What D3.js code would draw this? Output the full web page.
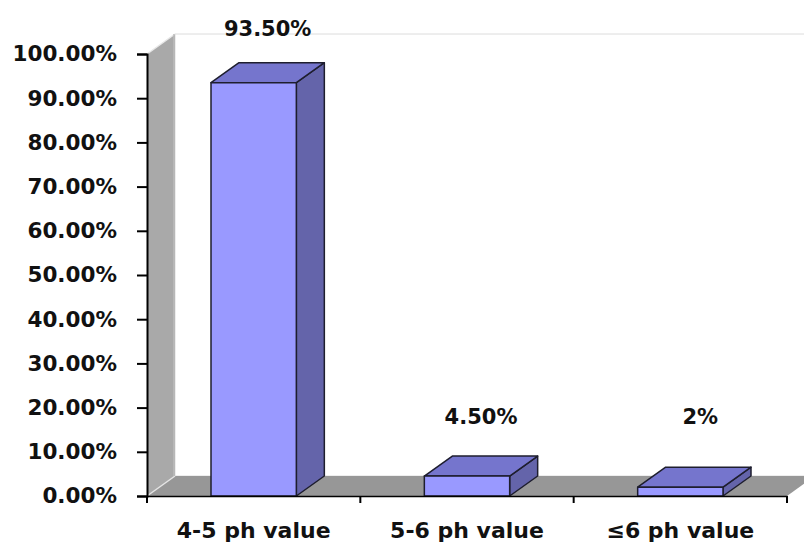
<!DOCTYPE html>
<html>
<head>
<meta charset="utf-8">
<script src="https://cdn.jsdelivr.net/npm/d3@7"></script>
<style>
  html, body { margin: 0; padding: 0; background: #fff; }
  svg { display: block; }
  text { font-family: "DejaVu Sans", Verdana, sans-serif; font-weight: bold; fill: #111; }
</style>
</head>
<body>
<svg id="chart" width="804" height="544"></svg>
<script>
// pH distribution of samples (percent)
const categories = ["4-5 ph value", "5-6 ph value", "≤6 ph value"];
const values = [93.5, 4.5, 2];
const valueLabels = ["93.50%", "4.50%", "2%"];
const yTicks = [0, 10, 20, 30, 40, 50, 60, 70, 80, 90, 100];

(function () {
  const svg = d3.select("#chart");
  const W = 804;

  // plot frame (front plane) and 3D depth offset
  const pL = 147, pR = 787, pB = 496, pT = 54;
  const dx = 28, dy = -20;

  const y = d3.scaleLinear().domain([0, 100]).range([pB, pT]);
  const x = d3.scaleBand().domain(categories).range([pL, pR]).paddingInner(0).paddingOuter(0);

  const pts = a => a.map(p => p.join(",")).join(" ");

  // back wall
  svg.append("polygon")
    .attr("points", pts([[pL + dx, pT + dy], [W + 20, pT + dy], [W + 20, pB + dy], [pL + dx, pB + dy]]))
    .attr("fill", "#fff").attr("stroke", "#dcdcdc").attr("stroke-width", 1);

  // side wall
  svg.append("polygon")
    .attr("points", pts([[pL, pT], [pL + dx, pT + dy], [pL + dx, pB + dy], [pL, pB]]))
    .attr("fill", "#a9a9a9");

  // floor
  svg.append("polygon")
    .attr("points", pts([[pL, pB], [pL + dx, pB + dy], [pR + dx, pB + dy], [pR, pB]]))
    .attr("fill", "#979797");

  // light edges of the walls
  svg.append("line").attr("x1", pL).attr("y1", pT).attr("x2", pL + dx).attr("y2", pT + dy)
    .attr("stroke", "#e8e8e8").attr("stroke-width", 1.5);
  svg.append("line").attr("x1", pL).attr("y1", pB).attr("x2", pL + dx).attr("y2", pB + dy)
    .attr("stroke", "#e4e4e4").attr("stroke-width", 1.5);
  svg.append("line").attr("x1", pL + dx - 1).attr("y1", pT + dy).attr("x2", pL + dx - 1).attr("y2", pB + dy)
    .attr("stroke", "#bdbdbd").attr("stroke-width", 1.5);

  // bars as 3D boxes
  const bw = x.bandwidth() * 0.4;
  const barG = svg.append("g");
  categories.forEach((c, i) => {
    const x0 = x(c) + (x.bandwidth() - bw) / 2, x1 = x0 + bw;
    const yt = y(values[i]), yb = y(0);
    const g = barG.append("g");
    g.append("polygon") // side
      .attr("points", pts([[x1, yt], [x1 + dx, yt + dy], [x1 + dx, yb + dy], [x1, yb]]))
      .attr("fill", "#6464aa");
    g.append("polygon") // top
      .attr("points", pts([[x0, yt], [x0 + dx, yt + dy], [x1 + dx, yt + dy], [x1, yt]]))
      .attr("fill", "#7575cd");
    g.append("rect") // front
      .attr("x", x0).attr("y", yt).attr("width", bw).attr("height", yb - yt)
      .attr("fill", "#9999ff");
    g.selectAll("polygon, rect").attr("stroke", "#1e1e2e").attr("stroke-width", 1.5)
      .attr("stroke-linejoin", "round");
  });

  // y axis
  const yAxis = d3.axisLeft(y).tickValues(yTicks).tickSize(10).tickPadding(20)
    .tickFormat(d => d3.format(".2f")(d) + "%");
  const ya = svg.append("g").attr("transform", `translate(${pL},0)`).call(yAxis);
  ya.select(".domain").attr("stroke", "#000").attr("stroke-width", 2);
  ya.selectAll(".tick line").attr("stroke", "#000").attr("stroke-width", 2);
  ya.selectAll(".tick text").style("font-size", "21.5px").attr("fill", "#111");

  // x axis
  const xAxis = d3.axisBottom(x).tickSize(0).tickPadding(26);
  const xa = svg.append("g").attr("transform", `translate(0,${pB})`).call(xAxis);
  xa.select(".domain").attr("stroke", "#000").attr("stroke-width", 1.5);
  xa.selectAll(".tick text").style("font-size", "22px").attr("fill", "#111");
  // category boundary ticks
  const bounds = categories.map(c => x(c)).concat([pR]);
  xa.selectAll(".bound").data(bounds).enter().append("line")
    .attr("x1", d => d).attr("x2", d => d).attr("y1", 0).attr("y2", 7)
    .attr("stroke", "#000").attr("stroke-width", 2);

  // value labels
  svg.append("g").selectAll("text").data(values).enter().append("text")
    .attr("x", (d, i) => x(categories[i]) + x.bandwidth() / 2 + dx / 2 + (i === 2 ? 6 : 0))
    .attr("y", d => Math.min(y(d) - 47, y(4.5) - 52))
    .attr("text-anchor", "middle")
    .style("font-size", "21px")
    .text((d, i) => valueLabels[i]);
})();
</script>
</body>
</html>
